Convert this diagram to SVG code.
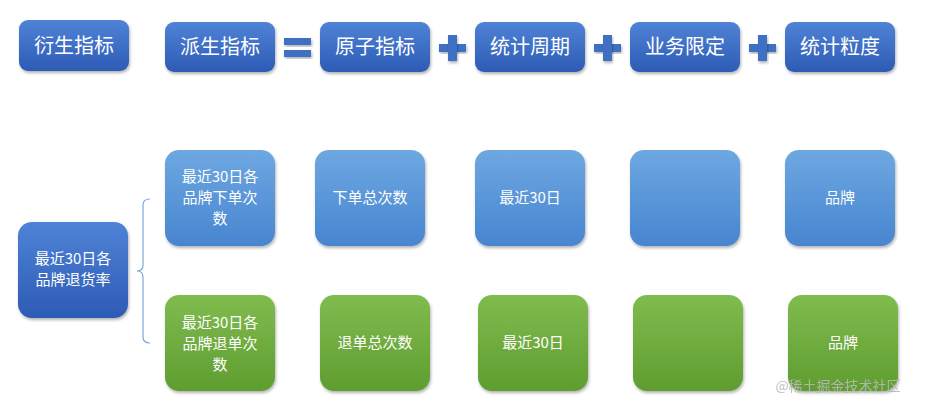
<svg xmlns="http://www.w3.org/2000/svg" width="934" height="410" viewBox="0 0 934 410">
<defs>
<linearGradient id="gd" x1="0" y1="0" x2="0" y2="1"><stop offset="0" stop-color="#4f83d6"/><stop offset="1" stop-color="#2d5bb5"/></linearGradient>
<linearGradient id="gl" x1="0" y1="0" x2="0" y2="1"><stop offset="0" stop-color="#6ea8e2"/><stop offset="1" stop-color="#4785cf"/></linearGradient>
<linearGradient id="gg" x1="0" y1="0" x2="0" y2="1"><stop offset="0" stop-color="#80bb4e"/><stop offset="1" stop-color="#5f9d30"/></linearGradient>
<filter id="sh" x="-10%" y="-10%" width="130%" height="130%"><feDropShadow dx="1" dy="2" stdDeviation="1.5" flood-color="#000" flood-opacity="0.3"/></filter>
</defs>
<style>
text{font-family:"Noto Sans CJK SC","Liberation Sans",sans-serif;fill:#fff;text-anchor:middle}
.t{font-size:20px}.s{font-size:15px}
.d{fill:url(#gd);filter:url(#sh)}.l{fill:url(#gl);filter:url(#sh)}.g{fill:url(#gg);filter:url(#sh)}
.op{fill:#3f6fc4;filter:url(#sh)}
</style>
<rect width="934" height="410" fill="#fff"/>
<g id="n-yansheng"><rect class="d" x="19" y="20" width="110" height="51" rx="9"/><text class="t" x="74" y="53">衍生指标</text></g>
<g id="n-paisheng"><rect class="d" x="165" y="22" width="110" height="50" rx="9"/><text class="t" x="220" y="54">派生指标</text></g>
<g id="op-eq"><rect class="op" x="284" y="38" width="27" height="7"/><rect class="op" x="284" y="50" width="27" height="7"/></g>
<g id="n-yuanzi"><rect class="d" x="320" y="22" width="110" height="50" rx="9"/><text class="t" x="375" y="54">原子指标</text></g>
<g id="op-p1"><rect class="op" x="439" y="44" width="27" height="8"/><rect class="op" x="448" y="35" width="9" height="26"/></g>
<g id="n-zhouqi"><rect class="d" x="475" y="22" width="110" height="50" rx="9"/><text class="t" x="530" y="54">统计周期</text></g>
<g id="op-p2"><rect class="op" x="594" y="44" width="27" height="8"/><rect class="op" x="603" y="35" width="9" height="26"/></g>
<g id="n-xianding"><rect class="d" x="630" y="22" width="110" height="50" rx="9"/><text class="t" x="685" y="54">业务限定</text></g>
<g id="op-p3"><rect class="op" x="749" y="44" width="27" height="8"/><rect class="op" x="758" y="35" width="9" height="26"/></g>
<g id="n-lidu"><rect class="d" x="785" y="22" width="110" height="50" rx="9"/><text class="t" x="840" y="54">统计粒度</text></g>

<g id="n-main"><rect class="d" x="18" y="222" width="110" height="96" rx="14"/><text class="s" x="73" y="264">最近30日各</text><text class="s" x="73" y="285">品牌退货率</text></g>
<g id="connectors"><path d="M150 199 Q143 199 143 205 L143 265 Q143 271 137 271 Q143 271 143 277 L143 337 Q143 343 150 343" fill="none" stroke="#7aa6d6" stroke-width="1.2"/></g>

<g id="n-b1"><rect class="l" x="165" y="150" width="110" height="96" rx="14"/><text class="s" x="220" y="182">最近30日各</text><text class="s" x="220" y="203">品牌下单次</text><text class="s" x="220" y="224">数</text></g>
<g id="n-b2"><rect class="l" x="315" y="150" width="110" height="96" rx="14"/><text class="s" x="370" y="203">下单总次数</text></g>
<g id="n-b3"><rect class="l" x="475" y="150" width="110" height="96" rx="14"/><text class="s" x="530" y="203">最近30日</text></g>
<g id="n-b4"><rect class="l" x="630" y="150" width="110" height="96" rx="14"/></g>
<g id="n-b5"><rect class="l" x="785" y="150" width="110" height="96" rx="14"/><text class="s" x="840" y="203">品牌</text></g>

<g id="n-g1"><rect class="g" x="165" y="295" width="110" height="96" rx="14"/><text class="s" x="220" y="328">最近30日各</text><text class="s" x="220" y="349">品牌退单次</text><text class="s" x="220" y="370">数</text></g>
<g id="n-g2"><rect class="g" x="320" y="295" width="110" height="96" rx="14"/><text class="s" x="375" y="348">退单总次数</text></g>
<g id="n-g3"><rect class="g" x="478" y="295" width="110" height="96" rx="14"/><text class="s" x="533" y="348">最近30日</text></g>
<g id="n-g4"><rect class="g" x="633" y="295" width="110" height="96" rx="14"/></g>
<g id="n-g5"><rect class="g" x="788" y="295" width="110" height="96" rx="14"/><text class="s" x="843" y="348">品牌</text></g>
<text x="838" y="391" style="font-size:14px;fill:#b8b8b8;opacity:0.9">@稀土掘金技术社区</text>
</svg>
